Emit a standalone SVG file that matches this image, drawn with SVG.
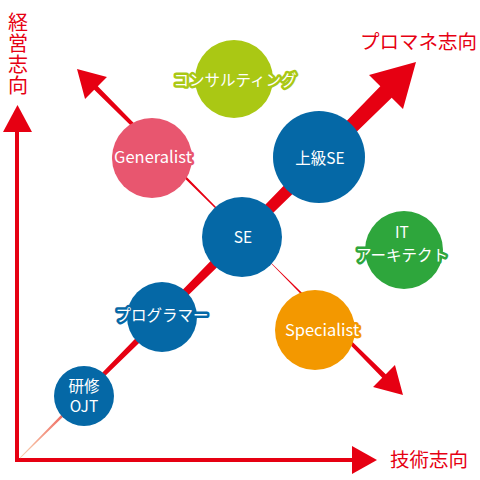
<svg xmlns="http://www.w3.org/2000/svg" width="480" height="480" viewBox="0 0 480 480">
<style>
.ax{fill:#e60012;font-family:"Noto Sans CJK JP","Noto Sans",sans-serif;font-size:19.5px}
.lbl{fill:#fff;font-family:"Noto Sans CJK JP","Noto Sans",sans-serif;font-size:15.5px;text-anchor:middle;stroke-width:5px;stroke-linejoin:round;paint-order:stroke}
.red{fill:#e60012}
</style>
<defs>
<linearGradient id="g1" gradientUnits="userSpaceOnUse" x1="20" y1="458" x2="110" y2="368">
<stop offset="0" stop-color="#f8d2b0"/>
<stop offset="1" stop-color="#e60012"/>
</linearGradient>
</defs>
<rect width="480" height="480" fill="#fff"/>
<g id="connectors">
<line x1="17" y1="462" x2="17" y2="128" stroke="#e60012" stroke-width="4"/>
<polygon class="red" points="17.5,105 3,132 32,132"/>
<line x1="15" y1="460" x2="355" y2="460" stroke="#e60012" stroke-width="4"/>
<polygon class="red" points="377,460 352,446 352,474"/>
<polygon fill="url(#g1)" points="20.35,458.35 391.7,97.7 403,109 416,62 369,75 380.3,86.3 19.65,457.65"/>
<polygon class="red" points="240.28,231.72 97.77,86.23 106.96,77.04 77,69 85.04,98.96 94.23,89.77 239.72,232.28"/>
<polygon class="red" points="239.72,232.28 385.77,374.23 394.96,365.04 403,395 373.04,386.96 382.23,377.77 240.28,231.72"/>
</g>
<g id="axis-labels">
<text class="ax" x="18" y="12" style="writing-mode:vertical-rl;font-size:20px;letter-spacing:1px">経営志向</text>
<text class="ax" x="390" y="467">技術志向</text>
<text class="ax" x="360" y="49">プロマネ志向</text>
</g>
<g id="node-ojt">
<circle cx="84" cy="396" r="30" fill="#0568a6"/>
<text class="lbl" x="84" y="392" stroke="#0568a6">研修</text>
<text class="lbl" x="84" y="412" stroke="#0568a6">OJT</text>
</g>
<g id="node-programmer">
<circle cx="162" cy="317" r="35" fill="#0568a6"/>
<text class="lbl" x="162" y="321" stroke="#0568a6">プログラマー</text>
</g>
<g id="node-se">
<circle cx="242" cy="237" r="40" fill="#0568a6"/>
<text class="lbl" x="243" y="243" stroke="#0568a6">SE</text>
</g>
<g id="node-senior-se">
<circle cx="319" cy="157" r="46" fill="#0568a6"/>
<text class="lbl" x="320" y="164" stroke="#0568a6">上級SE</text>
</g>
<g id="node-generalist">
<circle cx="152" cy="158" r="40" fill="#e8566f"/>
<text class="lbl" x="153" y="163" stroke="#e8566f" style="font-size:16.5px">Generalist</text>
</g>
<g id="node-consulting">
<circle cx="234" cy="79" r="39" fill="#aac814"/>
<text class="lbl" x="235" y="86" stroke="#aac814">コンサルティング</text>
</g>
<g id="node-it-architect">
<circle cx="404" cy="250" r="39" fill="#2ea63c"/>
<text class="lbl" x="402" y="238" stroke="#2ea63c">IT</text>
<text class="lbl" x="402" y="261" stroke="#2ea63c">アーキテクト</text>
</g>
<g id="node-specialist">
<circle cx="315" cy="330" r="40" fill="#f39800"/>
<text class="lbl" x="322" y="336" stroke="#f39800" style="font-size:16.5px">Specialist</text>
</g>
</svg>
